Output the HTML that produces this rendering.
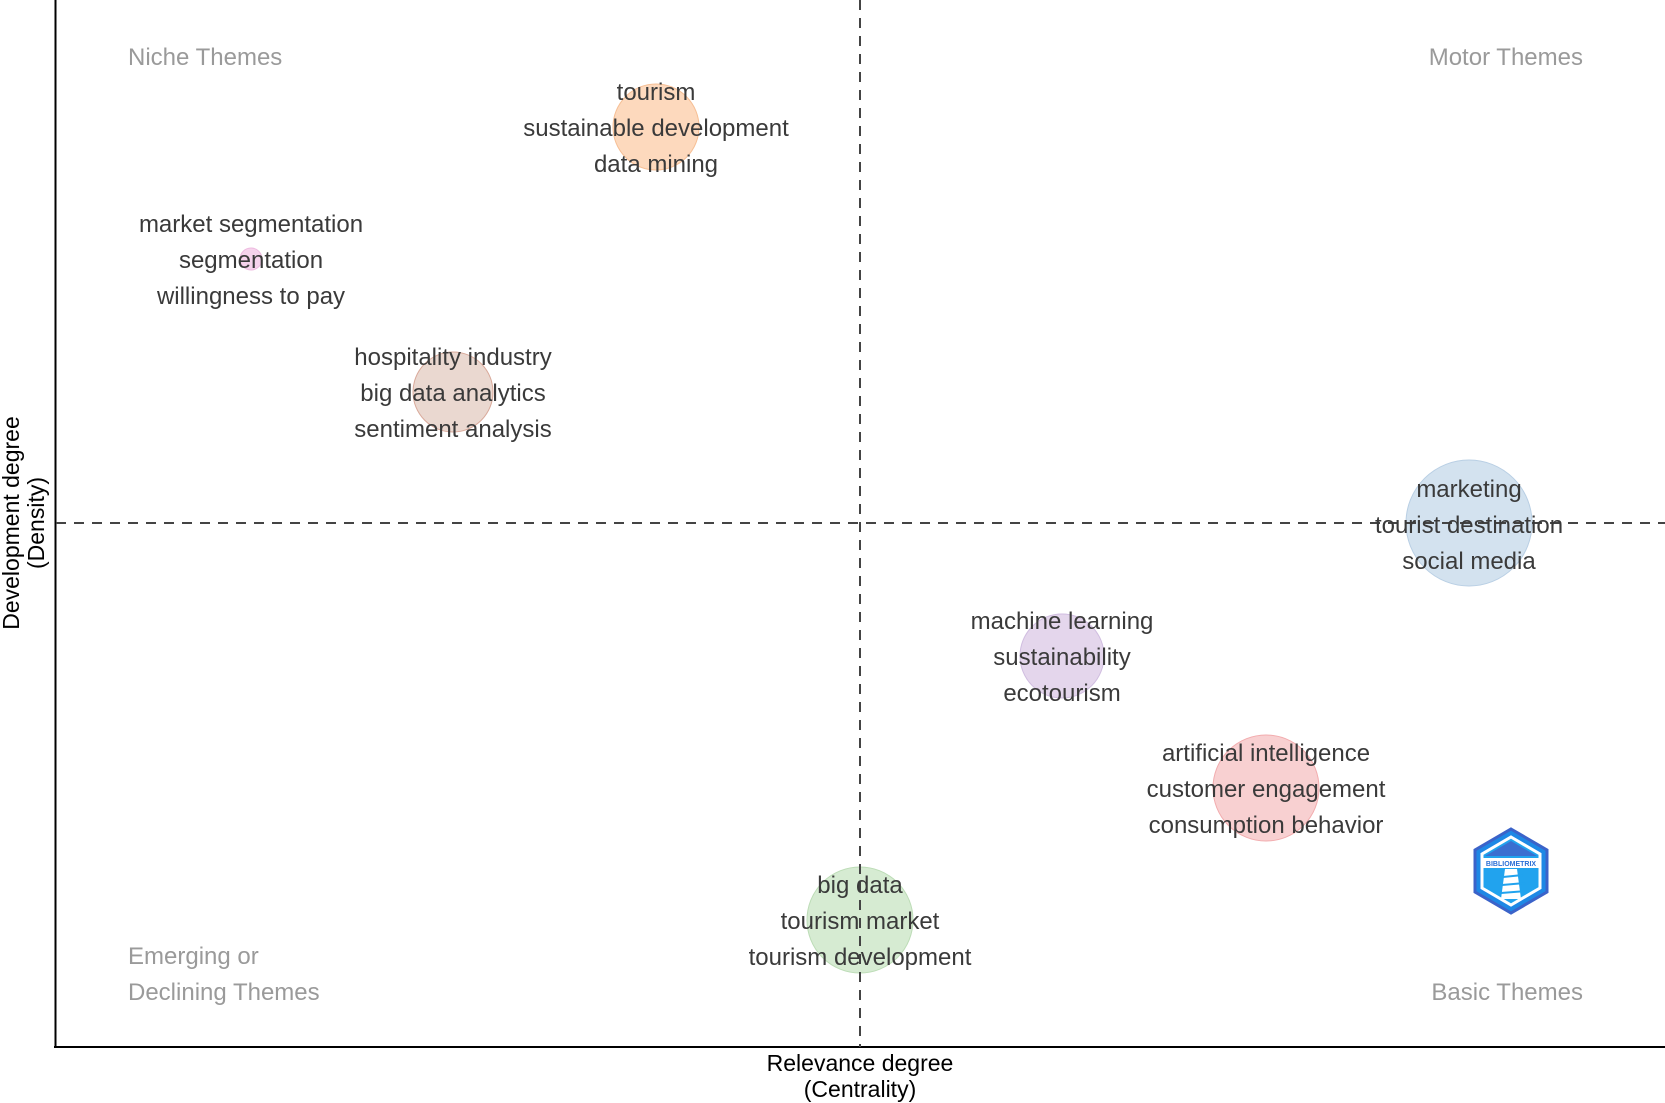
<!DOCTYPE html>
<html><head><meta charset="utf-8"><style>
html,body{margin:0;padding:0;background:#fff;}
svg{display:block;font-family:"Liberation Sans",Arial,sans-serif;}
</style></head><body>
<svg width="1665" height="1103" viewBox="0 0 1665 1103" xmlns="http://www.w3.org/2000/svg">
<rect width="1665" height="1103" fill="#fff"/>
<g stroke-width="1">
<circle cx="656" cy="127" r="43" fill="#fdd9bd" stroke="#f6bf95"/>
<circle cx="251" cy="259" r="11" fill="#f6d3ec" stroke="#eebbe0"/>
<circle cx="453" cy="392" r="40" fill="#ead8d0" stroke="#d9a99a"/>
<circle cx="1469" cy="523" r="63" fill="#d3e2ef" stroke="#b9cfe4"/>
<circle cx="1062" cy="656" r="42" fill="#e4d6ec" stroke="#d0bde0"/>
<circle cx="1266" cy="788" r="53" fill="#f8d0d1" stroke="#f2acae"/>
<circle cx="860" cy="920" r="53" fill="#d6ebd2" stroke="#bcdcb6"/>
</g>
<line x1="55.5" y1="0" x2="55.5" y2="1048" stroke="#000" stroke-width="2"/>
<line x1="54" y1="1047" x2="1665" y2="1047" stroke="#000" stroke-width="2"/>
<line x1="860" y1="0" x2="860" y2="1047" stroke="#444" stroke-width="2" stroke-dasharray="10,8"/>
<line x1="56" y1="523" x2="1665" y2="523" stroke="#444" stroke-width="2" stroke-dasharray="10,8"/>
<g fill="#9a9a9a" font-size="24">
<text x="128" y="65">Niche Themes</text>
<text x="1583" y="65" text-anchor="end">Motor Themes</text>
<text x="128" y="964">Emerging or</text>
<text x="128" y="1000">Declining Themes</text>
<text x="1583" y="1000" text-anchor="end">Basic Themes</text>
</g>
<g fill="#3a3a3a" font-size="24" text-anchor="middle">
<text x="656" y="100">tourism</text>
<text x="656" y="136">sustainable development</text>
<text x="656" y="172">data mining</text>
<text x="251" y="232">market segmentation</text>
<text x="251" y="268">segmentation</text>
<text x="251" y="304">willingness to pay</text>
<text x="453" y="365">hospitality industry</text>
<text x="453" y="401">big data analytics</text>
<text x="453" y="437">sentiment analysis</text>
<text x="1469" y="497">marketing</text>
<text x="1469" y="533">tourist destination</text>
<text x="1469" y="569">social media</text>
<text x="1062" y="629">machine learning</text>
<text x="1062" y="665">sustainability</text>
<text x="1062" y="701">ecotourism</text>
<text x="1266" y="761">artificial intelligence</text>
<text x="1266" y="797">customer engagement</text>
<text x="1266" y="833">consumption behavior</text>
<text x="860" y="893">big data</text>
<text x="860" y="929">tourism market</text>
<text x="860" y="965">tourism development</text>
</g>
<g fill="#000" font-size="23" text-anchor="middle">
<text x="860" y="1071">Relevance degree</text>
<text x="860" y="1097">(Centrality)</text>
<text transform="translate(19,523) rotate(-90)">Development degree</text>
<text transform="translate(44,523) rotate(-90)">(Density)</text>
</g>
<g transform="translate(1511,871)">
<polygon points="0,-42 36,-21 36,21 0,42 -36,21 -36,-21" fill="#1e88e5" stroke="#3b63c9" stroke-width="3"/>
<polygon points="0,-34 29,-17 29,17 0,34 -29,17 -29,-17" fill="#21a3ee" stroke="#fff" stroke-width="3"/>
<polygon points="0,-30 26,-15 -26,-15" fill="#3a6fd0"/>
<rect x="-30" y="-13" width="60" height="10" fill="#fff"/>
<text x="0" y="-5" font-size="7" font-weight="bold" fill="#2a6fd6" text-anchor="middle">BIBLIOMETRIX</text>
<path d="M-6,-2 L6,-2 L10,28 L-10,28 Z" fill="#fff"/>
<path d="M-8,6 L12,4 M-9,14 L14,12 M-10,22 L16,20" stroke="#21a3ee" stroke-width="2"/>
</g>
</svg>
</body></html>
